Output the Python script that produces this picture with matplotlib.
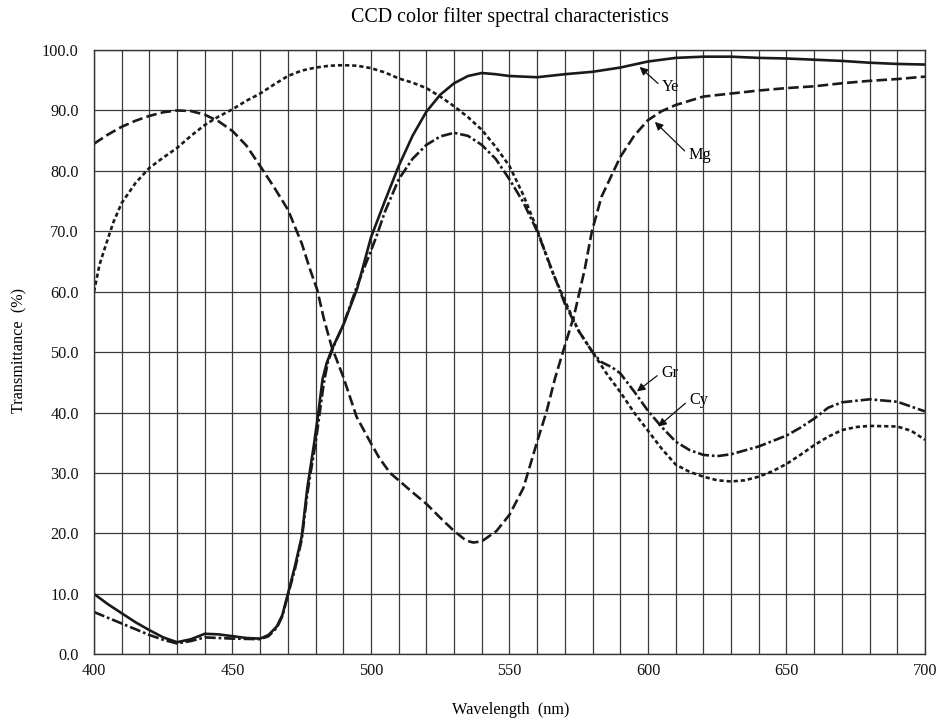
import matplotlib
matplotlib.use("Agg")
import matplotlib.pyplot as plt
from matplotlib.ticker import MultipleLocator, FormatStrFormatter

plt.rcParams['font.family'] = ['Liberation Serif', 'DejaVu Serif']

title = "CCD color filter spectral characteristics"
xlabel = "Wavelength  (nm)"
ylabel = "Transmittance  (%)"

ye_x = [400, 405, 410, 415, 420, 425, 430, 435, 440, 445, 450, 455, 460, 463, 466, 468, 470,
        472.5, 475, 477, 478, 479.5, 481, 482.5, 484, 486, 490, 495, 500, 505, 510, 515, 520,
        525, 530, 535, 540, 545, 550, 560, 570, 580, 590, 600, 610, 620, 630, 640, 650, 660,
        670, 680, 690, 700]
ye_y = [10.0, 8.3, 6.8, 5.3, 4.0, 2.8, 2.0, 2.5, 3.4, 3.3, 3.0, 2.7, 2.6, 3.2, 4.6, 6.5, 10.0,
        14.5, 19.5, 27.5, 30.5, 35.0, 40.0, 45.5, 48.2, 50.6, 54.5, 60.5, 69.0, 75.0, 80.8, 85.8,
        89.8, 92.6, 94.5, 95.7, 96.2, 96.0, 95.7, 95.5, 96.0, 96.4, 97.1, 98.1, 98.7, 98.9, 98.9,
        98.7, 98.6, 98.4, 98.2, 97.9, 97.7, 97.6]

mg_x = [400, 405, 410, 415, 420, 425, 430, 435, 440, 445, 450, 455, 460, 465, 470, 475, 478,
        480.6, 483, 485.8, 490, 494.8, 500, 503, 506.9, 510.5, 515, 520, 525, 530, 534.4, 537,
        540, 545.3, 550, 555, 560, 563.4, 566.4, 569.4, 573.3, 577.2, 579.7, 583.2, 590, 595,
        600, 605, 610, 620, 630, 640, 650, 660, 670, 680, 690, 700]
mg_y = [84.5, 86.0, 87.3, 88.3, 89.1, 89.7, 90.0, 89.9, 89.3, 88.2, 86.6, 84.2, 80.8, 77.3,
        73.6, 68.0, 63.7, 60.3, 55.5, 50.9, 45.9, 39.3, 34.9, 32.5, 30.0, 28.6, 26.8, 24.9, 22.6,
        20.4, 18.8, 18.5, 18.7, 20.4, 23.1, 27.5, 35.2, 40.2, 45.6, 50.2, 56.0, 63.8, 69.9, 75.7,
        82.3, 85.8, 88.4, 89.9, 90.9, 92.3, 92.8, 93.3, 93.7, 94.0, 94.5, 94.9, 95.2, 95.6]

cy_x = [400, 402, 404.6, 407, 410, 415, 420, 425, 430, 435, 440, 445, 450, 455, 460, 465, 470,
        475, 480, 485, 490, 495, 500, 505, 510, 515, 520, 525, 530, 535, 540, 545, 550, 555,
        560, 565, 570, 575, 580, 585, 590, 595, 600, 605, 610, 615, 620, 625, 630, 635, 640,
        645, 650, 655, 660, 665, 670, 675, 680, 690, 695, 700]
cy_y = [60.0, 64.5, 68.2, 71.5, 74.7, 78.0, 80.5, 82.2, 83.8, 85.8, 87.6, 89.0, 90.2, 91.6,
        92.8, 94.3, 95.7, 96.6, 97.1, 97.4, 97.5, 97.4, 97.0, 96.3, 95.3, 94.6, 93.7, 92.3, 90.7,
        88.9, 86.8, 84.0, 80.8, 76.0, 70.3, 63.8, 58.5, 53.5, 50.0, 46.5, 43.4, 40.0, 37.0, 34.0,
        31.4, 30.2, 29.4, 28.8, 28.6, 28.8, 29.4, 30.3, 31.5, 33.0, 34.6, 36.0, 37.1, 37.6, 37.8,
        37.7, 37.0, 35.5]

gr_x = [400, 410, 420, 425, 430, 435, 440, 450, 460, 463, 466, 468, 470, 472.5, 475, 477, 478,
        480, 481.5, 483, 484.5, 487, 490, 495, 500, 502, 505, 510, 515, 520, 525, 530, 535, 540,
        545, 550, 555, 560, 565, 570, 575, 580, 583, 587, 590, 595, 600, 605, 610, 615, 620, 625,
        630, 640, 650, 655, 660, 665, 670, 680, 690, 700]
gr_y = [7.0, 5.1, 3.2, 2.4, 1.8, 2.2, 2.8, 2.6, 2.5, 3.0, 4.4, 6.3, 9.8, 14.0, 19.0, 26.5, 29.5,
        35.0, 40.0, 45.0, 48.5, 51.5, 54.5, 61.0, 66.8, 69.2, 73.2, 78.6, 82.0, 84.3, 85.7, 86.3,
        85.8, 84.3, 82.0, 78.6, 74.8, 70.0, 64.0, 58.0, 53.5, 50.0, 48.4, 47.5, 46.5, 43.5, 40.3,
        37.6, 35.2, 33.8, 33.0, 32.8, 33.1, 34.4, 36.2, 37.5, 39.0, 40.8, 41.7, 42.2, 41.8, 40.2]

labels = ["Ye", "Mg", "Gr", "Cy"]
label_tips = [(597, 97.2), (602.5, 88.1), (596, 43.5), (603.7, 37.7)]
label_pos = [(605, 93.9), (614.6, 82.7), (604.7, 46.6), (614.9, 42.1)]

xticks = [400, 450, 500, 550, 600, 650, 700]
yticks = [0, 10, 20, 30, 40, 50, 60, 70, 80, 90, 100]

fig = plt.figure(figsize=(9.4, 7.23), dpi=100)
ax = fig.add_axes([0.1, 0.095, 0.884, 0.8358])

ax.set_xlim(400, 700)
ax.set_ylim(0, 100)
ax.xaxis.set_major_locator(plt.FixedLocator(xticks))
ax.xaxis.set_minor_locator(MultipleLocator(10))
ax.yaxis.set_major_locator(plt.FixedLocator(yticks))
ax.yaxis.set_major_formatter(FormatStrFormatter('%.1f'))
ax.grid(True, which='both', axis='x', color='#3a3a3a', lw=0.9)
ax.grid(True, which='major', axis='y', color='#3a3a3a', lw=0.9)
ax.set_axisbelow(True)
ax.tick_params(which='both', length=0, labelsize=11.7, colors='#111111')
ax.tick_params(axis='x', pad=6)
ax.tick_params(axis='y', pad=11)
for s in ax.spines.values():
    s.set_color('#333333')
    s.set_linewidth(1.0)

lw = 1.9
ax.plot(ye_x, ye_y, color='#1a1a1a', lw=lw, solid_capstyle='round')
ax.plot(mg_x, mg_y, color='#1a1a1a', lw=lw, dashes=(4.0, 1.6))
ax.plot(cy_x, cy_y, color='#1a1a1a', lw=lw, dashes=(1.6, 1.1))
ax.plot(gr_x, gr_y, color='#1a1a1a', lw=lw, dashes=(4.2, 1.1, 1.0, 1.1))

for lab, tip, pos in zip(labels, label_tips, label_pos):
    ax.annotate(lab, xy=tip, xytext=pos, fontsize=11.7, va='center', ha='left',
                arrowprops=dict(arrowstyle='-|>', color='#111111', lw=0.9,
                                mutation_scale=12, shrinkA=1, shrinkB=0,
                                relpos=(0, 0.5)))

fig.text(0.543, 0.977, title, ha='center', va='center', fontsize=14.4)
fig.text(0.543, 0.018, xlabel, ha='center', va='center', fontsize=11.7)
fig.text(0.021, 0.515, ylabel, ha='center', va='center', rotation=90, fontsize=11.7)

fig.savefig("out.png", dpi=100)
